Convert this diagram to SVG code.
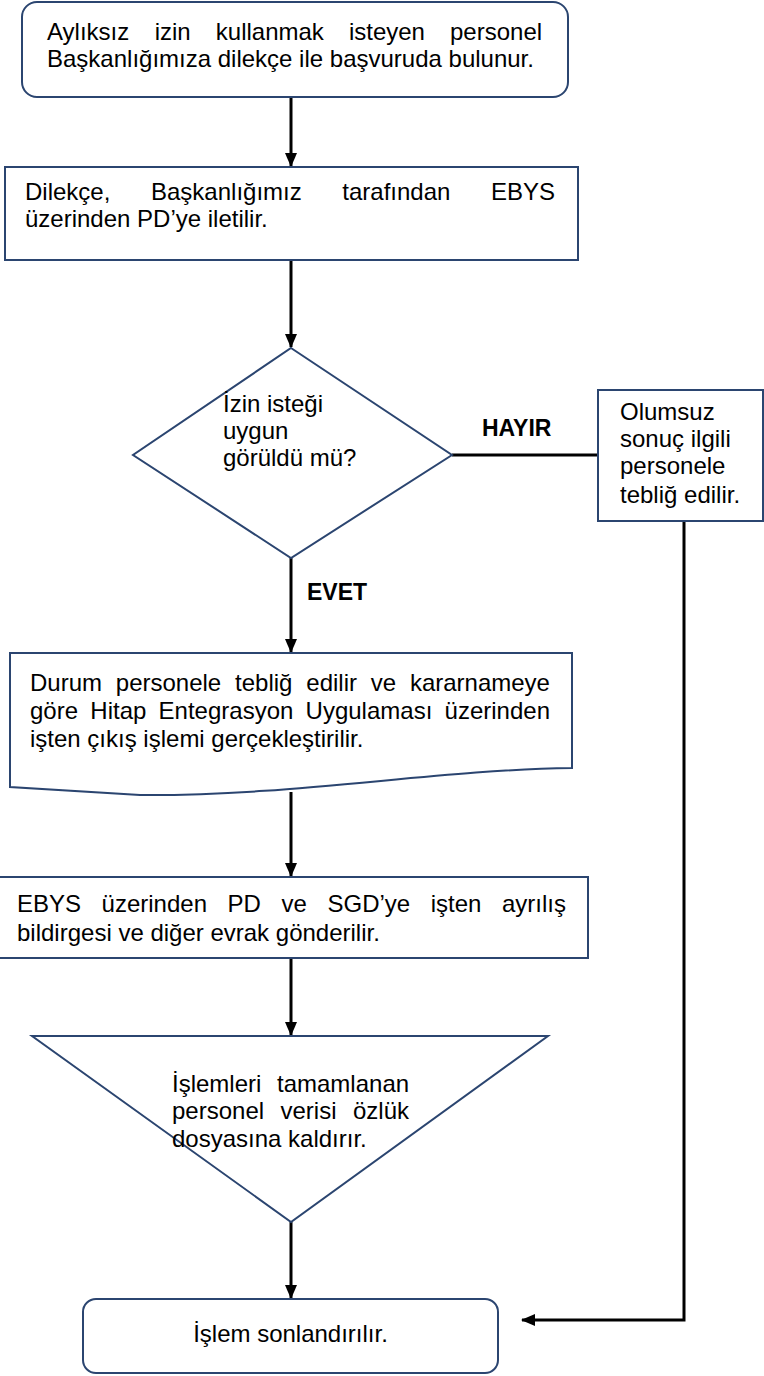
<svg xmlns="http://www.w3.org/2000/svg" width="764" height="1376" viewBox="0 0 764 1376">
<style>
.shape{fill:#ffffff;stroke:#2b4570;stroke-width:2}
.t{font-family:"Liberation Sans",Arial,sans-serif;font-size:24px;fill:#000}
.b{font-family:"Liberation Sans",Arial,sans-serif;font-size:23px;font-weight:bold;fill:#000}
.c{fill:none;stroke:#000;stroke-width:3}
</style>
<defs>
<marker id="ah" markerWidth="14" markerHeight="12" refX="13" refY="6" orient="auto" markerUnits="userSpaceOnUse">
<path d="M0,0 L14,6 L0,12 Z" fill="#000"/>
</marker>
<clipPath id="clipOl"><rect x="599" y="391" width="164" height="128"/></clipPath>
</defs>
<rect width="764" height="1376" fill="#ffffff"/>

<g id="connectors">
<line class="c" x1="291" y1="97" x2="291" y2="166" marker-end="url(#ah)"/>
<line class="c" x1="291" y1="260" x2="291" y2="347" marker-end="url(#ah)"/>
<line class="c" x1="291" y1="558" x2="291" y2="652" marker-end="url(#ah)"/>
<line class="c" x1="291" y1="792" x2="291" y2="876" marker-end="url(#ah)"/>
<line class="c" x1="291" y1="958" x2="291" y2="1035" marker-end="url(#ah)"/>
<line class="c" x1="291" y1="1222" x2="291" y2="1298" marker-end="url(#ah)"/>
<line class="c" x1="452" y1="455" x2="598" y2="455"/>
<polyline class="c" points="684,521 684,1320 522,1320" marker-end="url(#ah)"/>
<text class="b" x="482" y="436">HAYIR</text>
<text class="b" x="307" y="600">EVET</text>
</g>

<g id="n1">
<rect class="shape" x="22" y="2" width="546" height="95" rx="15"/>
<text class="t" y="40"><tspan x="47">Aylıksız</tspan><tspan x="154.7">izin</tspan><tspan x="215.8">kullanmak</tspan><tspan x="348.9">isteyen</tspan><tspan x="450">personel</tspan></text>
<text class="t" x="47" y="67">Başkanlığımıza dilekçe ile başvuruda bulunur.</text>
</g>

<g id="n2">
<rect class="shape" x="5" y="167" width="573" height="93"/>
<text class="t" y="200"><tspan x="25">Dilekçe,</tspan><tspan x="151">Başkanlığımız</tspan><tspan x="342.3">tarafından</tspan><tspan x="491">EBYS</tspan></text>
<text class="t" x="25" y="227">üzerinden PD’ye iletilir.</text>
</g>

<g id="n3">
<path class="shape" d="M291,348 L452,455 L291,558 L133,455 Z"/>
<text class="t" x="223" y="412">İzin isteği</text>
<text class="t" x="223" y="439">uygun</text>
<text class="t" x="223" y="466">görüldü mü?</text>
</g>

<g id="n4">
<rect class="shape" x="598" y="390" width="165" height="131"/>
<g clip-path="url(#clipOl)">
<text class="t" x="620" y="420">Olumsuz</text>
<text class="t" x="620" y="447">sonuç ilgili</text>
<text class="t" x="620" y="474">personele</text>
<text class="t" x="620" y="503">tebliğ edilir.</text>
</g>
</g>

<g id="n5">
<path class="shape" d="M10,653 H572 V768 C430,770 300,796 140,795 L10,787 Z"/>
<text class="t" y="691"><tspan x="30">Durum</tspan><tspan x="115.8">personele</tspan><tspan x="235.1">tebliğ</tspan><tspan x="306.3">edilir</tspan><tspan x="370.8">ve</tspan><tspan x="409.9">kararnameye</tspan></text>
<text class="t" y="719"><tspan x="30">göre</tspan><tspan x="90.3">Hitap</tspan><tspan x="158.6">Entegrasyon</tspan><tspan x="305.6">Uygulaması</tspan><tspan x="444.6">üzerinden</tspan></text>
<text class="t" x="30" y="747">işten çıkış işlemi gerçekleştirilir.</text>
</g>

<g id="n6">
<rect class="shape" x="-1" y="877" width="589" height="81"/>
<text class="t" y="912"><tspan x="17">EBYS</tspan><tspan x="101.6">üzerinden</tspan><tspan x="227.6">PD</tspan><tspan x="281.5">ve</tspan><tspan x="327.5">SGD’ye</tspan><tspan x="430.7">işten</tspan><tspan x="502">ayrılış</tspan></text>
<text class="t" x="17" y="941">bildirgesi ve diğer evrak gönderilir.</text>
</g>

<g id="n7">
<path class="shape" d="M32,1036 H548 L291,1222 Z"/>
<text class="t" y="1092"><tspan x="172">İşlemleri</tspan><tspan x="277">tamamlanan</tspan></text>
<text class="t" y="1119"><tspan x="172">personel</tspan><tspan x="280.5">verisi</tspan><tspan x="353">özlük</tspan></text>
<text class="t" x="172" y="1147">dosyasına kaldırır.</text>
</g>

<g id="n8">
<rect class="shape" x="83" y="1299" width="415" height="74" rx="13"/>
<text class="t" x="290.5" y="1342" text-anchor="middle">İşlem sonlandırılır.</text>
</g>
</svg>
